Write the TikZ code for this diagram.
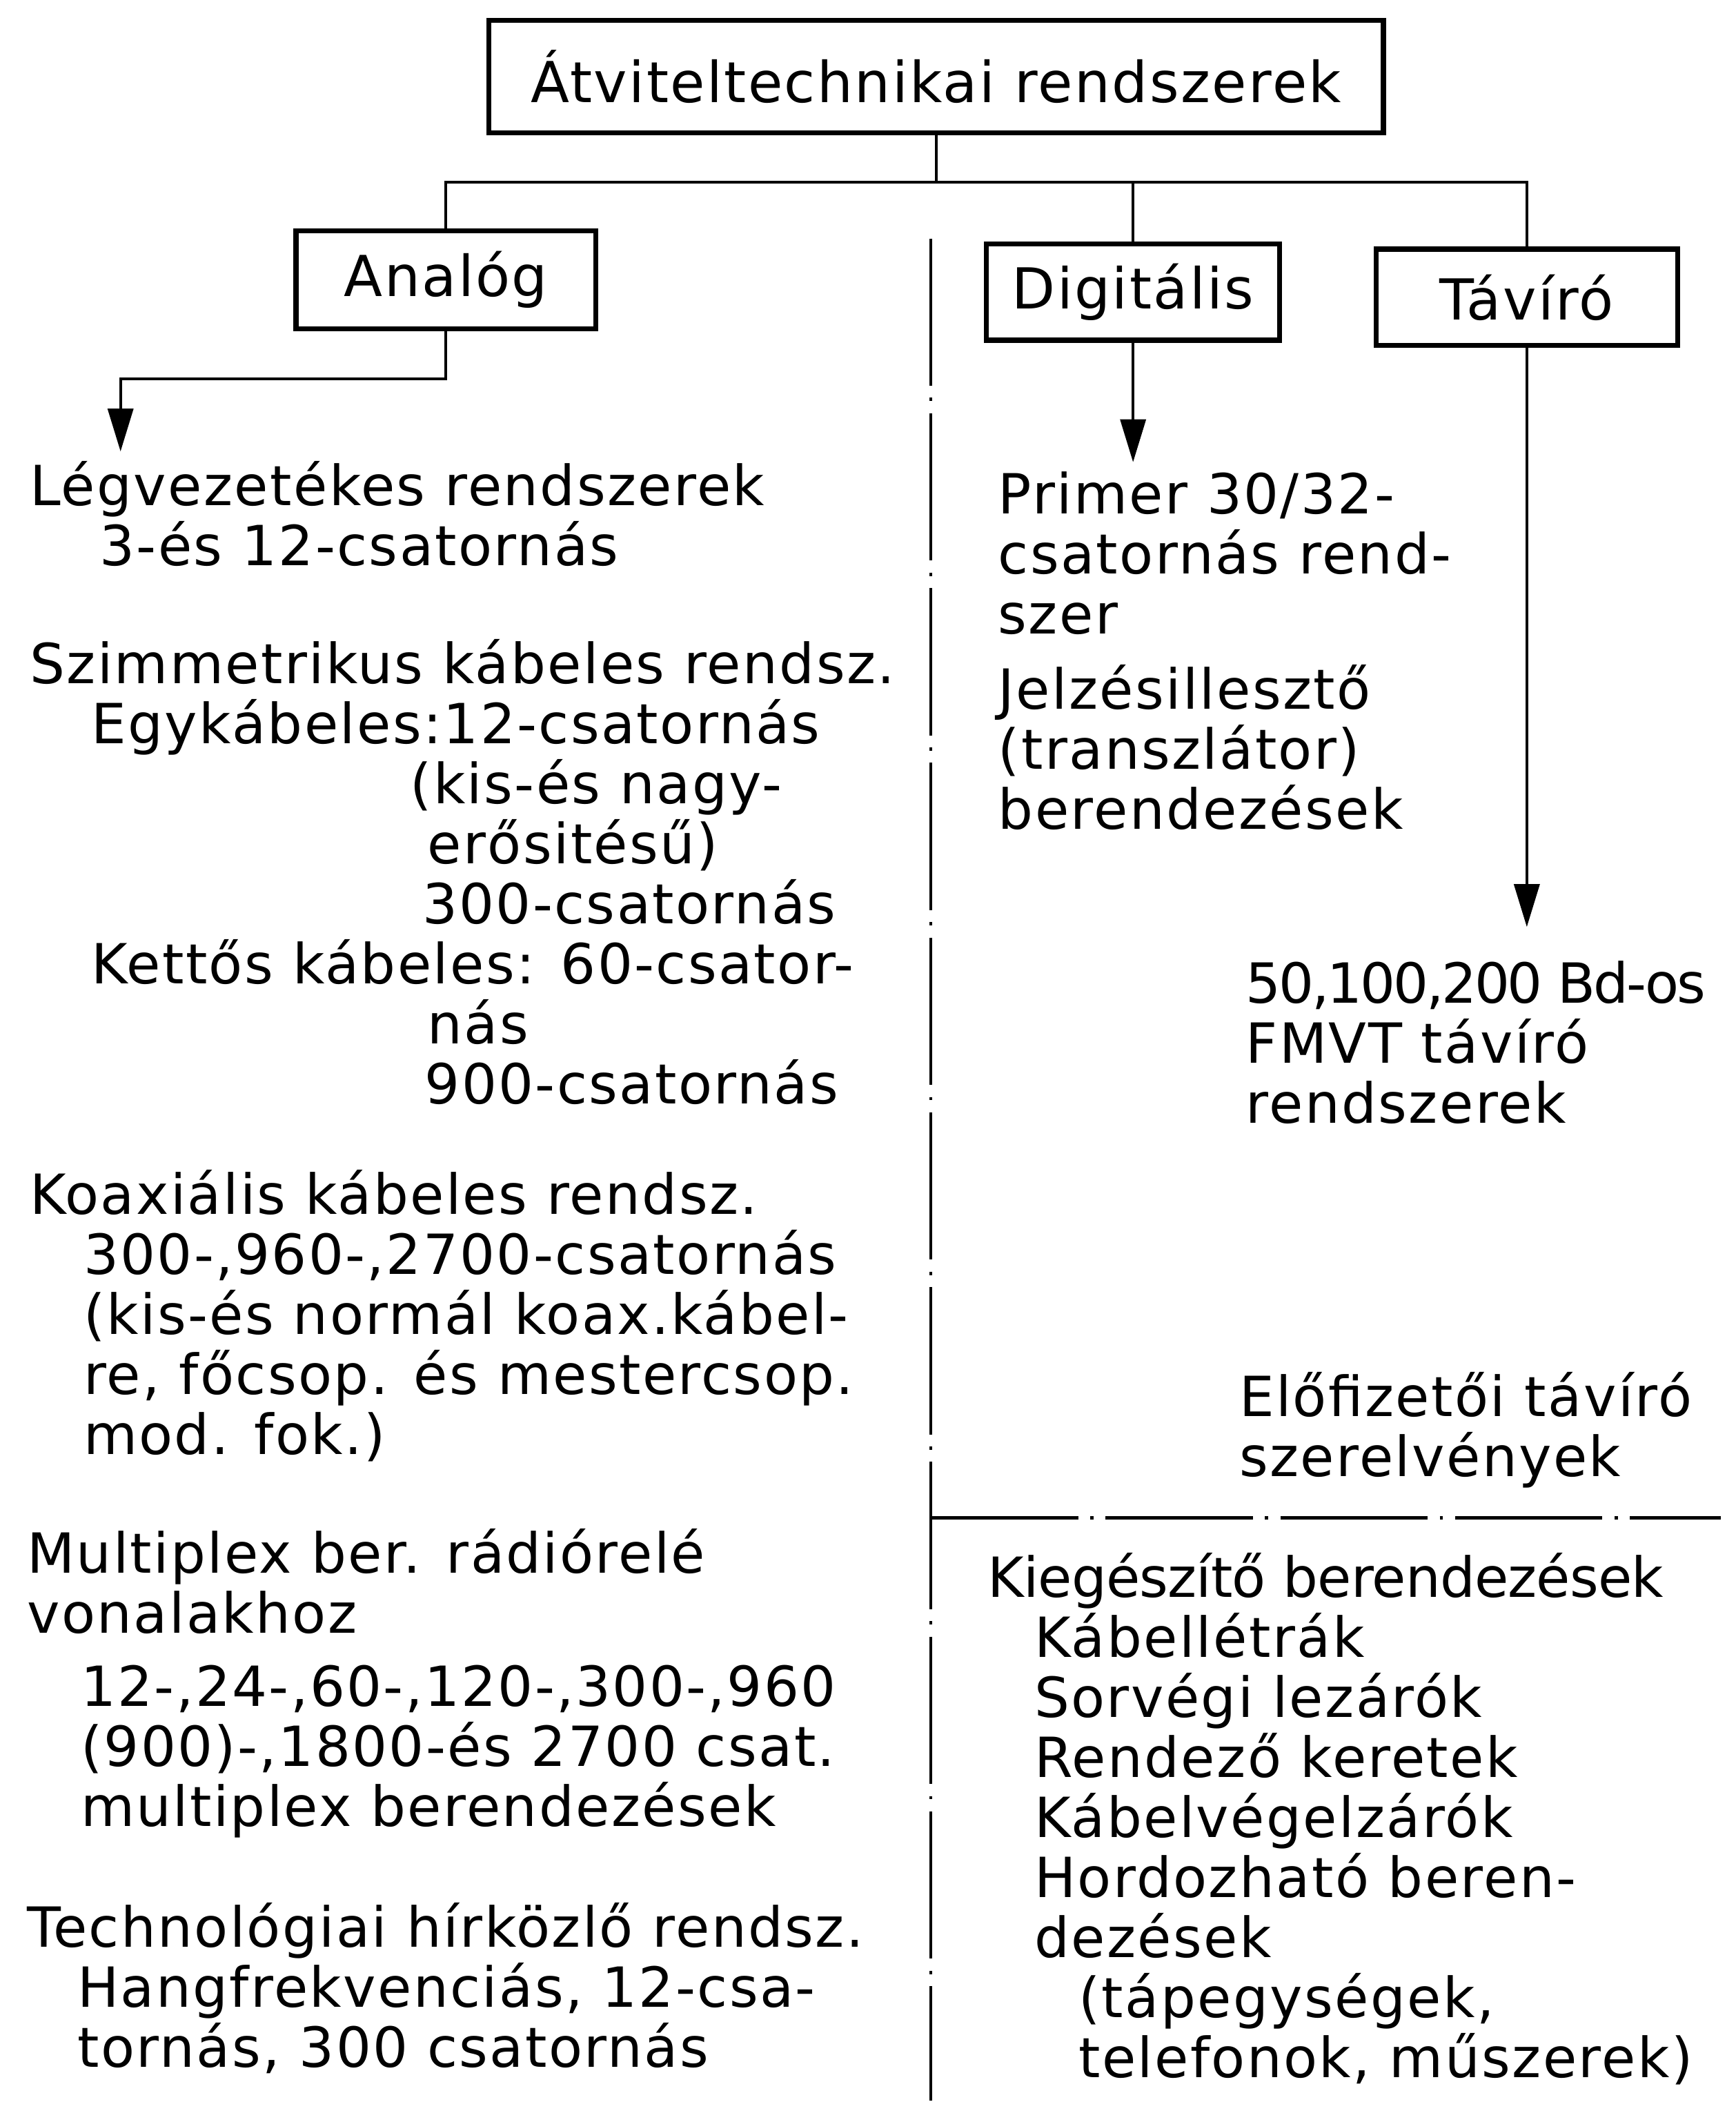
\documentclass[tikz,border=0pt]{standalone}
\usepackage{fontspec}
\setmainfont{DejaVu Sans}[LetterSpace=3]
\usetikzlibrary{arrows.meta, positioning}

\tikzset{
  sysbox/.style={draw, line width=2.1pt, minimum height=1.44cm, inner sep=0pt,
    font=\fontsize{24}{28}\selectfont},
  listtext/.style={anchor=north west, inner sep=0pt, align=left,
    font=\fontsize{23.5}{25.5}\selectfont, execute at begin node=\strut},
  link/.style={line width=1.2pt},
  arr/.style={link, -{Triangle[length=0.64cm, width=0.38cm]}},
  divider/.style={line width=1.4pt, dash pattern=on 2.2cm off 0.18cm on 0.05cm off 0.18cm},
}

\begin{document}
\begin{tikzpicture}[x=0.02cm, y=-0.02cm]
\fill[white] (0,0) rectangle (1296,1568);

% boxes
\node[sysbox, minimum width=13.36cm, minimum height=1.68cm] (top) at (699,57) {Átviteltechnikai rendszerek};
\node[sysbox, minimum width=4.48cm, minimum height=1.46cm] (ana) at (333,209) {Analóg};
\node[sysbox, minimum width=4.38cm] (dig) at (846,218) {Digitális};
\node[sysbox, minimum width=4.5cm] (tav) at (1140,222) {Távíró};

% left column
\node[listtext] (leg) at (22,344) {Légvezetékes rendszerek\\
  \hspace*{1.04cm}3-és 12-csatornás};
\node[listtext] (szim) at (22,477) {Szimmetrikus kábeles rendsz.\\
  \hspace*{0.92cm}Egykábeles:12-csatornás\\
  \hspace*{5.68cm}(kis-és nagy-\\
  \hspace*{5.94cm}erősitésű)\\
  \hspace*{5.86cm}300-csatornás\\
  \hspace*{0.92cm}Kettős kábeles: 60-csator-\\
  \hspace*{5.94cm}nás\\
  \hspace*{5.9cm}900-csatornás};
\node[listtext] (koax) at (22,873) {Koaxiális kábeles rendsz.\\
  \hspace*{0.8cm}300-,960-,2700-csatornás\\
  \hspace*{0.8cm}(kis-és normál koax.kábel-\\
  \hspace*{0.8cm}re, főcsop. és mestercsop.\\
  \hspace*{0.8cm}mod. fok.)};
\node[listtext] (mux) at (20,1141) {Multiplex ber. rádiórelé\\
  vonalakhoz\\[0.2cm]
  \hspace*{0.8cm}12-,24-,60-,120-,300-,960\\
  \hspace*{0.8cm}(900)-,1800-és 2700 csat.\\
  \hspace*{0.8cm}multiplex berendezések};
\node[listtext] (tech) at (20,1420) {Technológiai hírközlő rendsz.\\
  \hspace*{0.75cm}Hangfrekvenciás, 12-csa-\\
  \hspace*{0.75cm}tornás, 300 csatornás};

% right column
\node[listtext] (prim) at (745,352) {Primer 30/32-\\csatornás rend-\\szer};
\node[listtext] (jel) at (745,496) {Jelzésillesztő\\(transzlátor)\\berendezések};
\node[listtext] (fmvt) at (930,717)
  {{\addfontfeature{LetterSpace=-4}50,100,200 Bd-os}\\FMVT távíró\\rendszerek};
\node[listtext] (elo) at (925,1024) {Előfizetői távíró\\szerelvények};
\node[listtext] (kieg) at (737,1159) {{\addfontfeature{LetterSpace=-1}Kiegészítő berendezések}\\
  \hspace*{0.7cm}Kábellétrák\\
  \hspace*{0.7cm}Sorvégi lezárók\\
  \hspace*{0.7cm}Rendező keretek\\
  \hspace*{0.7cm}Kábelvégelzárók\\
  \hspace*{0.7cm}Hordozható beren-\\
  \hspace*{0.7cm}dezések\\
  \hspace*{1.36cm}(tápegységek,\\
  \hspace*{1.36cm}telefonok, műszerek)};

% connectors
\coordinate (hub) at (top.south |- 0,136);
\coordinate (anaturn) at (90,283);
\draw[link] (top.south) -- (hub);
\draw[link] (ana.north) |- (hub) -| (tav.north);
\draw[link] (dig.north) -- (dig.north |- hub);
\draw[arr, shorten >=0.14cm] (ana.south) |- (anaturn) -- (anaturn |- leg.north);
\draw[arr, shorten >=0.14cm] (dig.south) -- (dig.south |- prim.north);
\draw[arr, shorten >=0.5cm] (tav.south) -- (tav.south |- fmvt.north);

% dash-dot dividers
\coordinate (divtop) at (695,178);
\coordinate (divbot) at (695,1568);
\coordinate (divmid) at (695,1133);
\coordinate (divend) at (1285,1133);
\draw[divider] (divtop) -- (divbot);
\draw[divider] (divmid) -- (divend);
\end{tikzpicture}
\end{document}
